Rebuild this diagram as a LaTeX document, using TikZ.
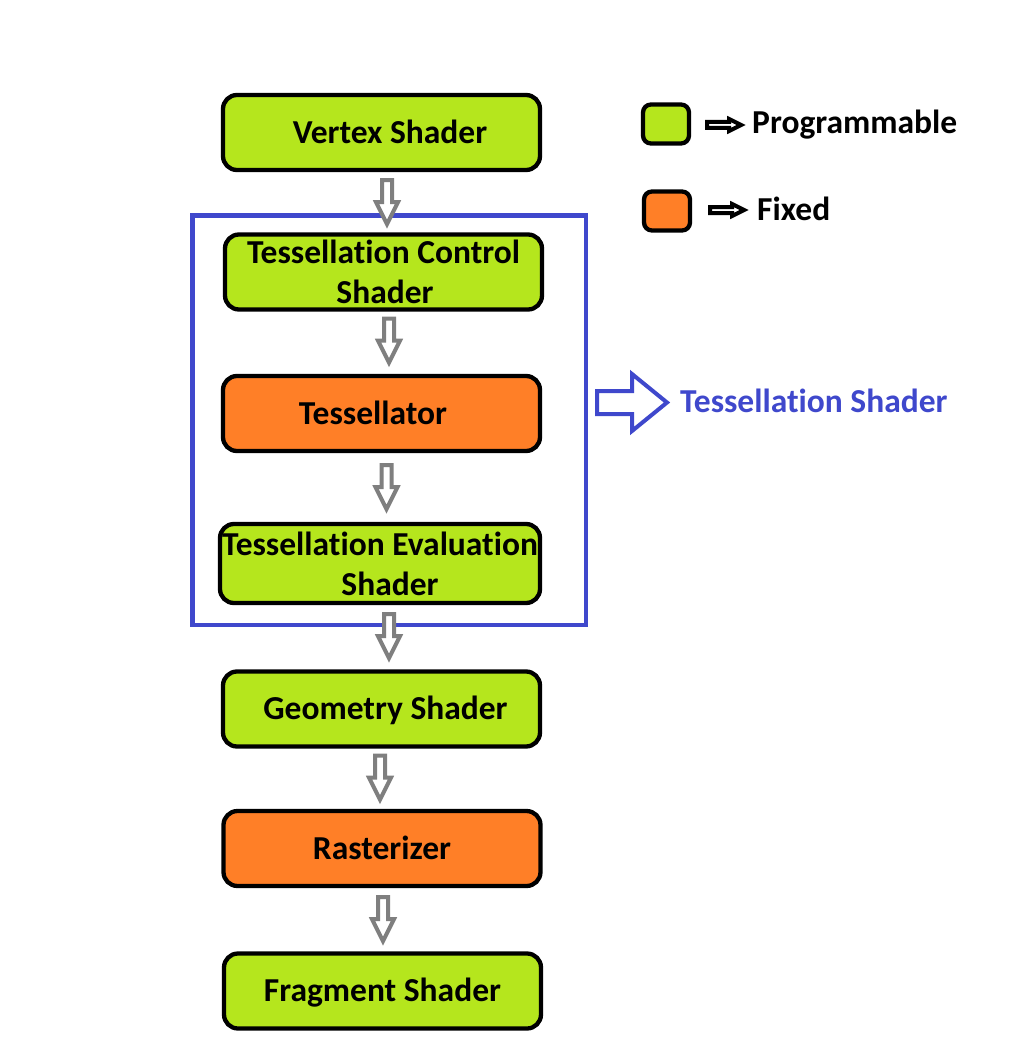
\documentclass[tikz,border=0pt]{standalone}
\usepackage{fontspec}
\setmainfont[Ligatures=NoCommon]{Carlito}
\usetikzlibrary{calc}
\definecolor{pgreen}{HTML}{B5E61D}
\definecolor{porange}{HTML}{FF7F27}
\definecolor{pblue}{HTML}{3F48CC}
\definecolor{pgray}{HTML}{7F7F7F}
\begin{document}
\begin{tikzpicture}[x=1pt,y=-1pt,
  stage/.style={draw=black, line width=4.3pt, rounded corners=14pt,
    minimum width=317pt, minimum height=75pt, align=center, inner sep=0pt,
    font=\bfseries\fontsize{33.5}{40}\selectfont},
  oneline/.style={text height=21.6pt, text depth=0pt},
  prog/.style={stage, fill=pgreen},
  fixd/.style={stage, fill=porange},
  legbox/.style={draw=black, line width=4.3pt, rounded corners=8pt, inner sep=0pt,
    minimum width=46pt, minimum height=39pt},
  legtext/.style={inner sep=0pt, anchor=base west, font=\bfseries\fontsize{33.5}{40}\selectfont},
  downarr/.pic={\draw[pgray, line width=4pt, fill=white, line join=miter]
    (-5,2) -- (5,2) -- (5,24) -- (11,24) -- (0,46) -- (-11,24) -- (-5,24) -- cycle;},
  legarr/.pic={\draw[black, line width=4pt, fill=white, line join=miter]
    (0,-3) -- (22,-3) -- (22,-6) -- (34,0) -- (22,6) -- (22,3) -- (0,3) -- cycle;},
  bluearr/.pic={\draw[pblue, line width=4pt, fill=white, line join=miter]
    (0,-11.5) -- (35,-11.5) -- (35,-28.5) -- (70,0) -- (35,28.5) -- (35,11.5) -- (0,11.5) -- cycle;}
]
\useasboundingbox (0,0) rectangle (1027,1062);

% tessellation group frame
\node[draw=pblue, line width=4.5pt, minimum width=393.5pt, minimum height=409.5pt, inner sep=0pt]
  (tessbox) at (389,420) {};

% pipeline stages
\node[prog, oneline] (vs)  at (381.5,132.5) {\hspace*{17pt}Vertex Shader};
\node[prog] (tcs) at (383.5,272) {Tessellation Control\\\hspace*{3pt}Shader};
\node[fixd, oneline] (tlr) at (381.5,413.5) {Tessellator\hspace*{17pt}};
\node[prog, minimum width=320pt, minimum height=79pt] (tes) at (380,563.5) {Tessellation Evaluation\\\hspace*{20pt}Shader};
\node[prog, oneline] (gs)  at (381.5,709) {\hspace*{8pt}Geometry Shader};
\node[fixd, oneline] (ras) at (382,848.5) {Rasterizer};
\node[prog, oneline] (fs)  at (382.5,991) {Fragment Shader};

% gray block arrows between stages
\pic at ($(vs.south)+(5.5,6)$)  {downarr};
\pic at ($(tcs.south)+(5.5,5)$) {downarr};
\pic at ($(tlr.south)+(5,10)$)  {downarr};
\pic at ($(tes.south)+(9,7)$)   {downarr};
\pic at ($(gs.south)+(-1.5,5)$) {downarr};
\pic at ($(ras.south)+(1,7)$)   {downarr};

% blue arrow and label
\coordinate (barr) at ($(tessbox.east)+(9,-17.5)$);
\pic at (barr) {bluearr};
\node[legtext, text=pblue] (tslabel) at (680,412) {Tessellation Shader};

% legend
\node[legbox, fill=pgreen] (lgreen) at (666,124) {};
\node[legbox, fill=porange] (lorange) at (667,211) {};
\pic at ($(lgreen.east)+(16,1)$) {legarr};
\pic at ($(lorange.east)+(18,-1)$) {legarr};
\node[legtext] (lprog) at (752,133) {Programmable};
\node[legtext] (lfix) at (757,220) {Fixed};
\end{tikzpicture}
\end{document}
